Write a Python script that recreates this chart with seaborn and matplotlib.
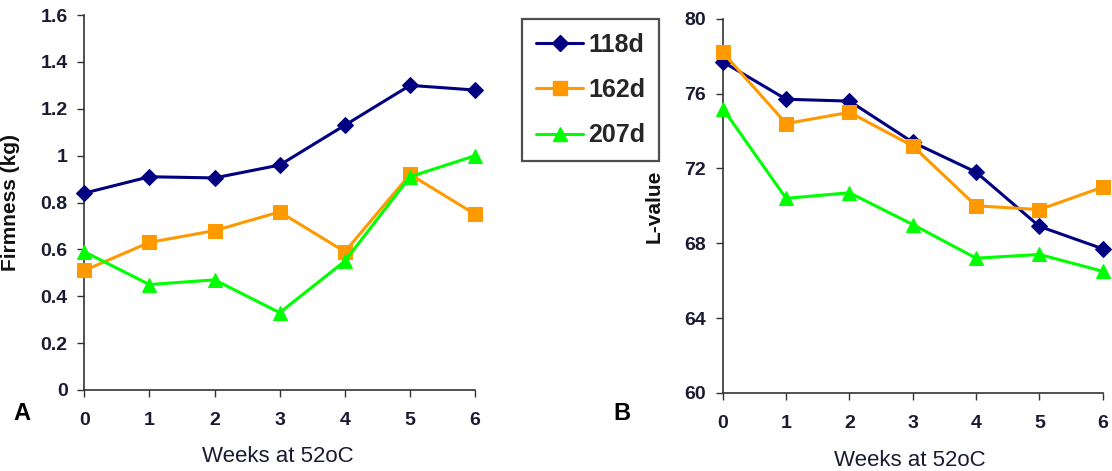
import matplotlib
matplotlib.use("Agg")
import matplotlib.pyplot as plt
import seaborn as sns
import pandas as pd
from matplotlib.lines import Line2D

sns.set_theme(style="white")
plt.rcParams['font.family'] = ['Liberation Sans', 'DejaVu Sans']

weeks = [0, 1, 2, 3, 4, 5, 6]
series_names = ["118d", "162d", "207d"]
firm_118 = [0.84, 0.91, 0.905, 0.96, 1.13, 1.30, 1.28]
firm_162 = [0.51, 0.63, 0.68, 0.76, 0.59, 0.92, 0.75]
firm_207 = [0.59, 0.45, 0.47, 0.33, 0.55, 0.91, 1.00]
lval_118 = [77.7, 75.7, 75.6, 73.4, 71.8, 68.9, 67.7]
lval_162 = [78.2, 74.4, 75.0, 73.2, 70.0, 69.8, 71.0]
lval_207 = [75.2, 70.4, 70.7, 69.0, 67.2, 67.4, 66.5]
firm_ticks = [0, 0.2, 0.4, 0.6, 0.8, 1, 1.2, 1.4, 1.6]
firm_ticklabels = ["0", "0.2", "0.4", "0.6", "0.8", "1", "1.2", "1.4", "1.6"]
lval_ticks = [60, 64, 68, 72, 76, 80]

colors = {"118d": "#000080", "162d": "#FF9900", "207d": "#00FF00"}
markers = {"118d": "D", "162d": "s", "207d": "^"}
msizes = {"118d": 8, "162d": 10, "207d": 10}

def make_df(a, b, c):
    rows = []
    for name, vals in zip(series_names, [a, b, c]):
        for w, v in zip(weeks, vals):
            rows.append({"week": w, "value": v, "series": name})
    return pd.DataFrame(rows)

df_firm = make_df(firm_118, firm_162, firm_207)
df_lval = make_df(lval_118, lval_162, lval_207)

fig = plt.figure(figsize=(11.12, 4.71), dpi=100)
axA = fig.add_axes([0.0758, 0.172, 0.3515, 0.796])
axB = fig.add_axes([0.650, 0.166, 0.3417, 0.794])

tick_color = "#1a1a33"

def draw(ax, df):
    for name in series_names:
        sub = df[df["series"] == name]
        sns.lineplot(data=sub, x="week", y="value", ax=ax, color=colors[name],
                     marker=markers[name], markersize=msizes[name],
                     markeredgecolor=colors[name], linewidth=2.2,
                     legend=False, clip_on=False, zorder=3)
    ax.set_xlim(0, 6)
    ax.set_xticks(weeks)
    ax.set_xticklabels([str(w) for w in weeks], fontweight="bold", fontsize=14, color=tick_color)
    for s in ["top", "right"]:
        ax.spines[s].set_visible(False)
    for s in ["left", "bottom"]:
        ax.spines[s].set_color("#333333")
        ax.spines[s].set_linewidth(1.2)
    ax.tick_params(axis="both", which="major", direction="out", length=5, width=1.0,
                   color="#333333", bottom=True, left=True)
    ax.tick_params(axis="x", pad=11)
    ax.tick_params(axis="y", pad=7)
    ax.set_xlabel("")
    ax.set_ylabel("")

draw(axA, df_firm)
axA.set_ylim(0, 1.6)
axA.set_yticks(firm_ticks)
axA.set_yticklabels(firm_ticklabels, fontweight="bold", fontsize=14, color=tick_color)
axA.set_ylabel("Firmness (kg)", fontweight="bold", fontsize=15, color="#111111")
axA.yaxis.set_label_coords(-0.164, 0.5)

draw(axB, df_lval)
axB.set_ylim(60, 80)
axB.set_yticks(lval_ticks)
axB.set_yticklabels([str(t) for t in lval_ticks], fontweight="bold", fontsize=14, color=tick_color)
axB.set_ylabel("L-value", fontweight="bold", fontsize=15, color="#111111")
axB.yaxis.set_label_coords(-0.157, 0.5)

fig.text(278 / 1112, 1 - 456 / 471, "Weeks at 52oC", ha="center", va="center",
         fontsize=16, color="#1a1a33")
fig.text(910 / 1112, 1 - 460 / 471, "Weeks at 52oC", ha="center", va="center",
         fontsize=16, color="#1a1a33")
fig.text(22 / 1112, 1 - 413 / 471, "A", ha="center", va="center", fontsize=17,
         fontweight="bold", color="black")
fig.text(622 / 1112, 1 - 413 / 471, "B", ha="center", va="center", fontsize=17,
         fontweight="bold", color="black")

handles = [Line2D([], [], color=colors[n], marker=markers[n], markersize=msizes[n],
                  markeredgecolor=colors[n], linewidth=2.2) for n in series_names]
leg = fig.legend(handles, series_names, loc="upper left",
                 bbox_to_anchor=(522 / 1112, 1 - 19 / 471),
                 frameon=True, fancybox=False, prop={"weight": "bold", "size": 18},
                 handlelength=1.9, handletextpad=0.2, labelspacing=0.85,
                 borderpad=0.55, borderaxespad=0)
leg.get_frame().set_edgecolor("#222222")
leg.get_frame().set_linewidth(1.6)

fig.savefig("out.png", dpi=100)
